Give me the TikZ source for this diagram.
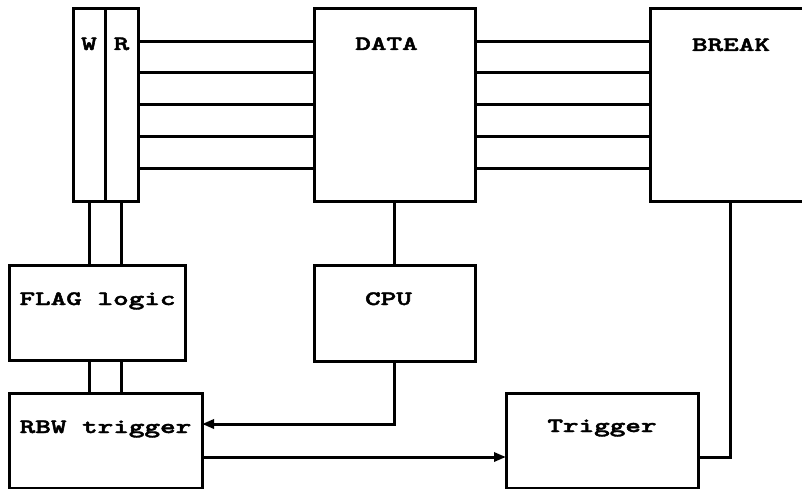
\documentclass[tikz,border=0pt]{standalone}
\usepackage{graphicx}
\usepackage{fontspec}
\usetikzlibrary{arrows.meta}

% heavy, wide typewriter face for the labels
\newfontfamily\lblfont[FakeBold=1.8]{lmmonolt10-bold.otf}
\newcommand{\lbltext}[1]{\scalebox{1.45}[1]{\fontsize{20.5}{20.5}\lblfont #1}}

\tikzset{
  box/.style={draw, line width=3pt, inner sep=0pt, outer sep=0pt},
  wire/.style={line width=3pt},
  lbl/.style={inner sep=0pt, outer sep=0pt, anchor=base},
  arr/.style={wire, -{Triangle[length=12pt,width=9pt]}}
}

\begin{document}
\begin{tikzpicture}[x=1pt, y=-1pt]
  \clip (0,0) rectangle (802,489);
  \useasboundingbox (0,0) rectangle (802,489);
  \fill[white] (0,0) rectangle (802,489);

  % boxes (line-centre geometry)
  \node[box, minimum width=32pt,  minimum height=192pt] (W)    at (89,105) {};
  \node[box, minimum width=33pt,  minimum height=192pt] (R)    at (121.5,105) {};
  \node[box, minimum width=161pt, minimum height=192pt] (DATA) at (394.5,105) {};
  \node[box, minimum width=165pt, minimum height=192pt] (BRK)  at (732.5,105) {};
  \node[box, minimum width=176pt, minimum height=95pt]  (FLAG) at (97,312.5) {};
  \node[box, minimum width=161pt, minimum height=96pt]  (CPU)  at (394.5,313) {};
  \node[box, minimum width=193pt, minimum height=95pt]  (RBW)  at (105.5,440.5) {};
  \node[box, minimum width=192pt, minimum height=95pt]  (TRG)  at (602,440.5) {};

  % labels
  \node[lbl] (tW)    at (89,50)    {\lbltext{W}};
  \node[lbl] (tR)    at (121.5,50) {\lbltext{R}};
  \node[lbl] (tDATA) at (386.5,50) {\lbltext{DATA}};
  \node[lbl] (tBRK)  at (731,51)   {\lbltext{BREAK}};
  \node[lbl] (tFLAG) at (97.5,305) {\lbltext{FLAG logic}};
  \node[lbl] (tCPU)  at (388.5,305){\lbltext{CPU}};
  \node[lbl] (tRBW)  at (105.5,433){\lbltext{RBW trigger}};
  \node[lbl] (tTRG)  at (602,432)  {\lbltext{Trigger}};

  % data bus: R column -> DATA -> BREAK
  \foreach \y in {42,73,105,137,169} {
    \draw[wire] (R.east |- 0,\y) -- (DATA.west |- 0,\y);
    \draw[wire] (DATA.east |- 0,\y) -- (BRK.west |- 0,\y);
  }

  % W/R lines to FLAG logic and on to RBW trigger
  \draw[wire] (W.south) -- (W.south |- FLAG.north);
  \draw[wire] (R.south) -- (R.south |- FLAG.north);
  \draw[wire] (FLAG.south -| W.south) -- (RBW.north -| W.south);
  \draw[wire] (FLAG.south -| R.south) -- (RBW.north -| R.south);

  % DATA to CPU
  \draw[wire] (DATA.south) -- (CPU.north);

  % CPU to RBW trigger
  \coordinate (cin)  at (RBW.east |- 0,424);
  \draw[arr] (CPU.south) |- (cin);

  % RBW trigger to Trigger
  \coordinate (cout) at (RBW.east |- 0,457);
  \draw[arr] (cout) -- (TRG.west |- cout);

  % BREAK to Trigger
  \coordinate (bdn) at (730,0);
  \draw[wire] (BRK.south -| bdn) |- (TRG.east |- cout);
\end{tikzpicture}
\end{document}
